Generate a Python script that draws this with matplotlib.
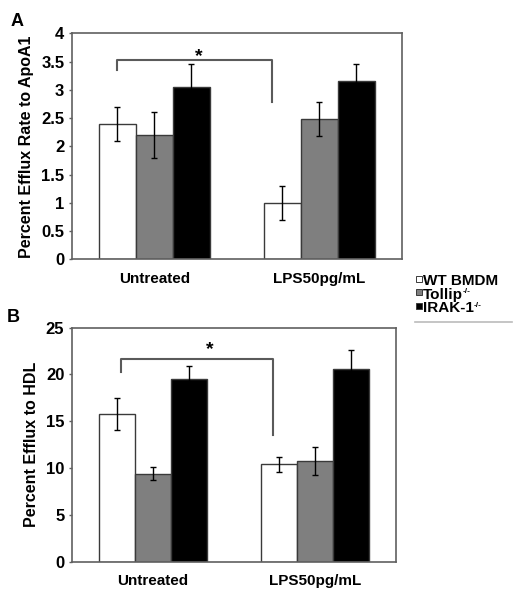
import matplotlib
matplotlib.use("Agg")
import matplotlib.pyplot as plt
from matplotlib.lines import Line2D
from matplotlib.text import Annotation
import numpy as np

plt.rcParams['font.family'] = ['Liberation Sans', 'DejaVu Sans']
plt.rcParams['font.weight'] = 'bold'

categories = ['Untreated', 'LPS50pg/mL']
groups = ['WT BMDM', 'Tollip', 'IRAK-1']
group_sup = ['', '-/-', '-/-']

# panel A: efflux rate to ApoA1
apoa1_mean = {'WT BMDM': [2.4, 1.0], 'Tollip': [2.2, 2.48], 'IRAK-1': [3.05, 3.16]}
apoa1_err = {'WT BMDM': [0.3, 0.3], 'Tollip': [0.4, 0.3], 'IRAK-1': [0.4, 0.3]}
# panel B: efflux to HDL
hdl_mean = {'WT BMDM': [15.8, 10.4], 'Tollip': [9.4, 10.8], 'IRAK-1': [19.5, 20.55]}
hdl_err = {'WT BMDM': [1.7, 0.8], 'Tollip': [0.7, 1.5], 'IRAK-1': [1.4, 2.1]}

colors = ['white', '#7f7f7f', 'black']
edge = '#3a3a3a'
frame = '#606060'
bw = 0.224

fig = plt.figure(figsize=(5.29, 6.01), dpi=100)
axA = fig.add_axes([0.1361, 0.5686, 0.6232, 0.3760])
axB = fig.add_axes([0.1361, 0.0654, 0.6125, 0.3894])


def draw(ax, means, errs, ymax, ystep, ylabel):
    x = np.arange(len(categories)) + 0.5
    for i, key in enumerate(means):
        pos = x + (i - 1) * bw
        ax.bar(pos, means[key], bw, color=colors[i], edgecolor=edge, linewidth=1.0, zorder=2)
        ax.errorbar(pos, means[key], yerr=errs[key], fmt='none', ecolor='black',
                    elinewidth=1.0, capsize=2.5, capthick=1.0, zorder=3)
    ax.set_xlim(0, 2)
    ax.set_ylim(0, ymax)
    ticks = np.arange(0, ymax + ystep / 2, ystep)
    ax.set_yticks(ticks)
    ax.set_yticklabels([f'{v:g}' for v in ticks])
    ax.set_xticks(x)
    ax.set_xticklabels(categories, fontsize=11)
    ax.tick_params(axis='x', length=0, pad=9)
    ax.tick_params(axis='y', length=2.5, width=1.0, color=frame, pad=3, labelsize=12)
    ax.set_ylabel(ylabel, fontsize=11.5, fontweight='bold', labelpad=5)
    for s in ax.spines.values():
        s.set_color(frame)
        s.set_linewidth(1.2)


def bracket(ax, x0, x1, y, y0, y1, star_x, star_y):
    ax.plot([x0, x0, x1, x1], [y0, y, y, y1], color='#5a5a5a', lw=1.5, zorder=4)
    ax.text(star_x, star_y, '*', ha='center', va='center', fontsize=14, fontweight='bold')


draw(axA, apoa1_mean, apoa1_err, 4, 0.5, 'Percent Efflux Rate to ApoA1')
draw(axB, hdl_mean, hdl_err, 25, 5, 'Percent Efflux to HDL')

bracket(axA, 0.275, 1.215, 3.53, 3.35, 2.79, 0.77, 3.58)
bracket(axB, 0.30, 1.24, 21.7, 20.3, 13.5, 0.85, 22.7)

fig.text(0.019, 0.965, 'A', fontsize=13, fontweight='bold', ha='left', va='center')
fig.text(0.012, 0.472, 'B', fontsize=13, fontweight='bold', ha='left', va='center')

# legend, drawn by hand so the rows sit as tight as in the original
leg_x, leg_y0, leg_dy = 423 / 529, 1 - 285 / 601, 13.5 / 601
for i, (name, sup, c) in enumerate(zip(groups, group_sup, colors)):
    yb = leg_y0 - i * leg_dy
    t = fig.text(leg_x, yb, name, fontsize=11, fontweight='bold', ha='left', va='baseline')
    if sup:
        fig.add_artist(Annotation(sup, xy=(1.0, 0.95), xycoords=t, fontsize=6,
                                  fontweight='bold', ha='left', va='top'))
    fig.add_artist(Line2D([419 / 529], [yb + 6.5 / 601], transform=fig.transFigure,
                          marker='s', markersize=4, markerfacecolor=c,
                          markeredgecolor=edge, markeredgewidth=0.7, linestyle='none'))
fig.add_artist(Line2D([415 / 529, 512 / 529], [1 - 321.7 / 601] * 2,
                      transform=fig.transFigure, color='#bbbbbb', lw=1.2))

fig.savefig('out.png', dpi=100)
